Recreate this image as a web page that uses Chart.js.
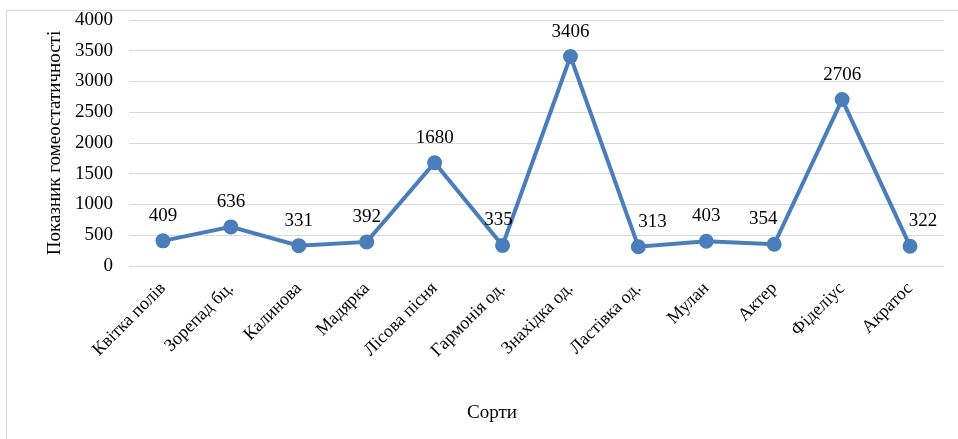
<!DOCTYPE html>
<html>
<head>
<meta charset="utf-8">
<script src="https://cdn.jsdelivr.net/npm/chart.js@4/dist/chart.umd.min.js"></script>
<style>
  body { margin: 0; background: #fff; overflow: hidden; }
  #frame { position: absolute; left: 6px; top: 10px; width: 1000px; height: 600px; border: 1px solid #d9d9d9; }
  #wrap { position: absolute; left: 0; top: 0; width: 958px; height: 439px; }
</style>
</head>
<body>
<div id="frame"></div>
<div id="wrap"><canvas id="myChart" width="958" height="439"></canvas></div>
<script>
var sorty = ["Квітка полів", "Зорепад бц.", "Калинова", "Мадярка", "Лісова пісня", "Гармонія од.",
             "Знахідка од.", "Ластівка од.", "Мулан", "Актер", "Фіделіус", "Акратос"];
var pokaznyk = [409, 636, 331, 392, 1680, 335, 3406, 313, 403, 354, 2706, 322];

var shryft = "'Liberation Serif', 'Times New Roman', serif";
// зсув підписів вбік, щоб не налазили на лінію (як у Excel)
var zsuv = [0, 0, 0, 0, 0, -4, 0, 14, 0, -11, 0, 13];

// підписи значень над точками + назва осі X
var pidpysy = {
    id: 'pidpysy',
    afterDatasetsDraw: function(chart) {
        var ctx = chart.ctx;
        var meta = chart.getDatasetMeta(0);
        ctx.save();
        ctx.fillStyle = '#000';
        ctx.font = '19px ' + shryft;
        ctx.textAlign = 'center';
        ctx.textBaseline = 'middle';
        meta.data.forEach(function(pt, i) {
            ctx.fillText(pokaznyk[i], pt.x + zsuv[i], pt.y - 25);
        });
        ctx.fillText('Сорти', 492, 413);
        ctx.restore();
    }
};

var ctx = document.getElementById('myChart').getContext('2d');
var chart = new Chart(ctx, {
    type: 'line',
    data: {
        labels: sorty,
        datasets: [{
            data: pokaznyk,
            borderColor: 'rgb(74,126,187)',
            backgroundColor: 'rgb(74,126,187)',
            borderWidth: 4,
            pointRadius: 5.5,
            pointHoverRadius: 5.5,
            tension: 0
        }]
    },
    options: {
        responsive: false,
        animation: false,
        layout: { padding: { left: 0, right: 14, top: 20, bottom: 0 } },
        plugins: { legend: { display: false }, tooltip: { enabled: false } },
        scales: {
            x: {
                offset: true,
                grid: { display: false },
                border: { display: false },
                ticks: { color: '#000', font: { family: shryft, size: 18 }, minRotation: 45, maxRotation: 45, padding: 4 },
                afterFit: function(s) { s.height = 173; s.paddingLeft = 0; s.paddingRight = 0; }
            },
            y: {
                min: 0, max: 4000,
                ticks: {
                    stepSize: 500, color: '#000', font: { family: shryft, size: 19 }, padding: 16,
                    callback: function(v) { return String(v); }
                },
                grid: { color: '#d9d9d9', lineWidth: 1, drawTicks: false },
                border: { display: false },
                title: {
                    display: true, text: 'Показник гомеостатичності', color: '#000',
                    font: { family: shryft, size: 19 }, padding: { top: 44, bottom: 0 }
                },
                afterFit: function(s) { s.width = 129; s.paddingTop = 0; s.paddingBottom = 0; }
            }
        }
    },
    plugins: [pidpysy]
});
</script>
</body>
</html>
